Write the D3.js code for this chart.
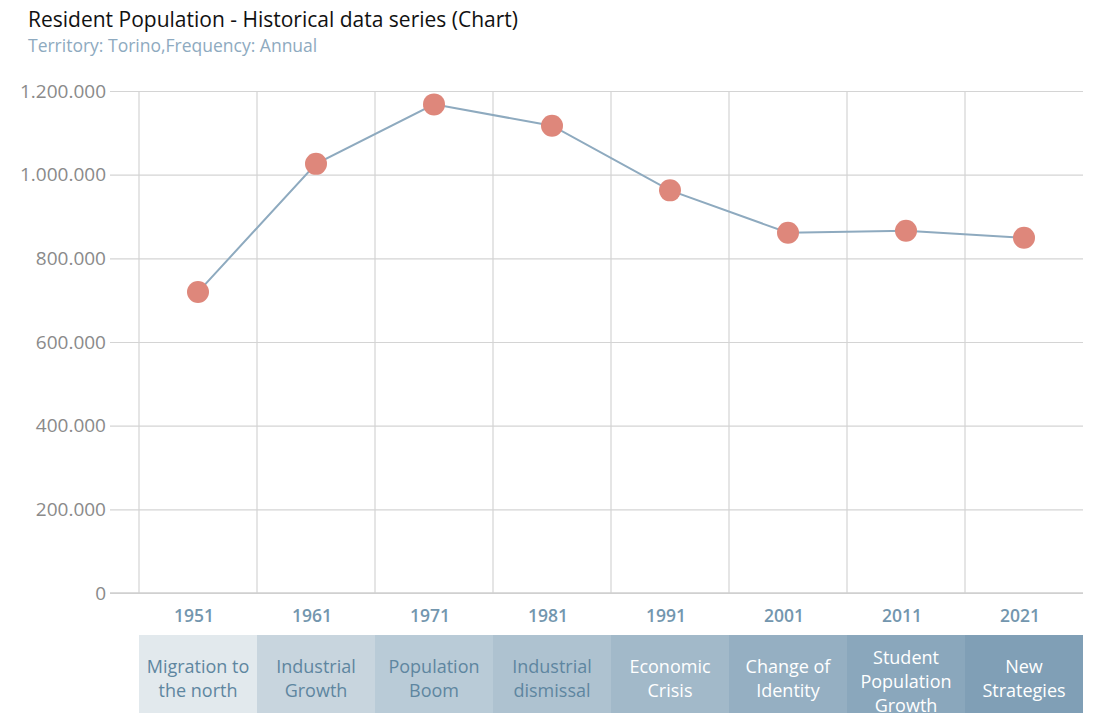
<!DOCTYPE html>
<html>
<head>
<meta charset="utf-8">
<script src="https://cdn.jsdelivr.net/npm/d3@7"></script>
<style>
  html, body { margin: 0; padding: 0; background: #fff; }
  svg { display: block; font-family: "Open Sans", Lato, "Noto Sans", sans-serif; }
</style>
</head>
<body>
<svg id="chart" width="1093" height="713"></svg>
<script>
const years = ["1951", "1961", "1971", "1981", "1991", "2001", "2011", "2021"];
const population = [719300, 1025800, 1168000, 1117000, 962500, 861000, 866000, 849000];
const phases = [
  ["Migration to", "the north"],
  ["Industrial", "Growth"],
  ["Population", "Boom"],
  ["Industrial", "dismissal"],
  ["Economic", "Crisis"],
  ["Change of", "Identity"],
  ["Student", "Population", "Growth"],
  ["New", "Strategies"]
];
const yTicks = [0, 200000, 400000, 600000, 800000, 1000000, 1200000];
const bandColors = ["#e2e9ed", "#c8d5de", "#b9cbd7", "#aec2d0", "#a2b9c9", "#95afc2", "#8aa7bc", "#809fb6"];
const bandText = ["#5e86a0", "#5e86a0", "#5e86a0", "#5e86a0", "#ffffff", "#ffffff", "#ffffff", "#ffffff"];

(function () {
const FONT = '"Open Sans", Lato, "Noto Sans", sans-serif';
const svg = d3.select("#chart");
const pLeft = 139, pRight = 1083, pTop = 91, pBottom = 593;

const x = d3.scaleBand().domain(years).range([pLeft, pRight]).padding(0);
const y = d3.scaleLinear().domain([0, 1200000]).range([pBottom, pTop]);

// title
svg.append("text").attr("x", 28).attr("y", 27).attr("font-size", 21).attr("fill", "#111")
  .text("Resident Population - Historical data series (Chart)");
svg.append("text").attr("x", 28).attr("y", 52).attr("font-size", 17.5).attr("fill", "#8eaac0")
  .text("Territory: Torino,Frequency: Annual");

// horizontal grid + y axis
const yAxis = d3.axisLeft(y).tickValues(yTicks)
  .tickSize(pRight - 110)
  .tickFormat(d => d3.format(",")(d).replace(/,/g, "."));
const gy = svg.append("g").attr("transform", `translate(${pRight},0)`).call(yAxis)
  .attr("font-family", FONT);
gy.select(".domain").remove();
gy.selectAll(".tick line").attr("stroke", "#d4d4d4").attr("stroke-width", 1.2);
gy.selectAll(".tick text").attr("x", -(pRight - 106)).attr("fill", "#8a8a8a")
  .attr("font-size", 19).attr("dy", "0.33em");

// vertical grid lines (band edges)
const edges = years.map(d => x(d));
svg.append("g").selectAll("line").data(edges).join("line")
  .attr("x1", d => d).attr("x2", d => d).attr("y1", pTop).attr("y2", pBottom)
  .attr("stroke", "#d4d4d4").attr("stroke-width", 1.2);

// bottom axis line
svg.append("line").attr("x1", 110).attr("x2", pRight).attr("y1", pBottom).attr("y2", pBottom)
  .attr("stroke", "#cfcfcf").attr("stroke-width", 1.5);

// year labels
const xAxis = d3.axisBottom(x).tickSize(0).tickPadding(0);
const gx = svg.append("g").attr("transform", `translate(0,${pBottom + 23})`).call(xAxis)
  .attr("font-family", FONT);
gx.select(".domain").remove();
gx.selectAll(".tick text").attr("fill", "#7396ae").attr("font-size", 17.5)
  .attr("font-weight", 600).attr("dy", "0.32em").attr("dx", -4);

// phase bands
const bandTop = 635;
const bands = svg.append("g").selectAll("g").data(years).join("g");
bands.append("rect")
  .attr("x", d => x(d)).attr("y", bandTop)
  .attr("width", x.bandwidth()).attr("height", 713 - bandTop)
  .attr("fill", (d, i) => bandColors[i]);
bands.each(function (d, i) {
  const lines = phases[i];
  const cx = x(d) + x.bandwidth() / 2;
  const lh = 24;
  const startY = lines.length === 3 ? 658 : 667;
  const t = d3.select(this).append("text").attr("text-anchor", "middle")
    .attr("font-size", 18).attr("fill", bandText[i]);
  lines.forEach((ln, k) => {
    t.append("tspan").attr("x", cx).attr("y", startY + k * lh).attr("dy", "0.35em").text(ln);
  });
});

// line
const line = d3.line().x((d, i) => x(years[i]) + x.bandwidth() / 2).y(d => y(d));
svg.append("path").datum(population).attr("d", line)
  .attr("fill", "none").attr("stroke", "#8eaabf").attr("stroke-width", 2);

// dots
svg.append("g").selectAll("circle").data(population).join("circle")
  .attr("cx", (d, i) => x(years[i]) + x.bandwidth() / 2)
  .attr("cy", d => y(d))
  .attr("r", 11)
  .attr("fill", "#de877b");
})();
</script>
</body>
</html>
